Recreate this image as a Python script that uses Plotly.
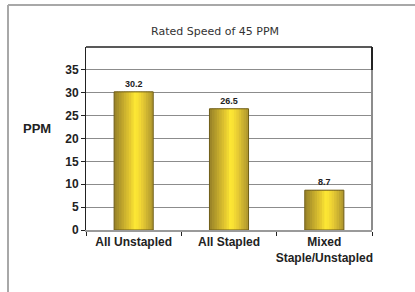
import plotly.graph_objects as go

# ---- data ----
categories = ["All Unstapled", "All Stapled", "Mixed<br>Staple/Unstapled"]
ppm_values = [30.2, 26.5, 8.7]
value_labels = ["30.2", "26.5", "8.7"]
y_ticks = [0, 5, 10, 15, 20, 25, 30, 35]
y_tick_text = ["0", "5", "10", "15", "20", "25", "30", "35"]
title_text = "Rated Speed of 45 PPM"
y_label = "PPM"

# ---- style ----
BAR_W = 0.41
N_SLICES = 16
stops = [(0.0, (150, 128, 40)), (0.40, (228, 200, 48)), (0.55, (255, 234, 52)),
         (0.72, (232, 204, 52)), (1.0, (172, 148, 46))]


def grad(t):
    for (t0, c0), (t1, c1) in zip(stops[:-1], stops[1:]):
        if t0 <= t <= t1:
            f = (t - t0) / (t1 - t0) if t1 > t0 else 0
            return "rgb(%d,%d,%d)" % tuple(round(a + (b - a) * f) for a, b in zip(c0, c1))
    return "rgb(%d,%d,%d)" % stops[-1][1]


fig = go.Figure()
w = BAR_W / N_SLICES
for i in range(N_SLICES):
    t = (i + 0.5) / N_SLICES
    width = w * 1.6 if i < N_SLICES - 1 else w
    fig.add_trace(go.Bar(
        x=categories, y=ppm_values, width=width, offset=-BAR_W / 2 + i * w,
        marker=dict(color=grad(t), line=dict(width=0)),
        hoverinfo="skip", showlegend=False))

fig.add_trace(go.Bar(
    x=categories, y=ppm_values, width=BAR_W, offset=-BAR_W / 2,
    marker=dict(color="rgba(0,0,0,0)", line=dict(color="#6e5c16", width=1)),
    text=value_labels, textposition="outside", cliponaxis=False,
    textfont=dict(family="Liberation Sans", size=9, color="#222222", weight="bold"),
    showlegend=False))

fig.update_layout(
    width=415, height=292,
    margin=dict(l=86, r=43, t=47, b=62, autoexpand=False),
    paper_bgcolor="white", plot_bgcolor="white",
    barmode="overlay",
    font=dict(family="Liberation Sans", color="#222222"),
    xaxis=dict(range=[-0.5, 2.5], showline=True, linecolor="#9a9a9a", linewidth=2,
               ticks="outside", tickson="boundaries", ticklen=4, tickcolor="#222222",
               tickangle=0, automargin=False,
               tickfont=dict(family="Liberation Sans", size=12, color="#222222", weight="bold"),
               showgrid=False),
    yaxis=dict(range=[0, 40], tickvals=y_ticks, ticktext=y_tick_text, automargin=False,
               showline=True, linecolor="#222222", linewidth=1,
               ticks="outside", ticklen=4, tickcolor="#222222",
               tickfont=dict(family="Liberation Sans", size=12, color="#222222", weight="bold"),
               showgrid=True, gridcolor="#8c8c8c", gridwidth=1, zeroline=False),
    annotations=[
        dict(text=title_text, xref="paper", yref="paper", x=0.451, y=1.082,
             xanchor="center", yanchor="middle", showarrow=False,
             font=dict(family="DejaVu Sans", size=11, color="#333333")),
        dict(text="<b>" + y_label + "</b>", xref="paper", yref="paper", x=-0.172, y=0.555,
             xanchor="center", yanchor="middle", showarrow=False,
             font=dict(family="Liberation Sans", size=13, color="#222222")),
    ],
    shapes=[
        dict(type="line", xref="paper", yref="paper", x0=-0.2727, x1=1.16, y0=1.2295, y1=1.2295,
             line=dict(color="#a8a8a8", width=2)),
        dict(type="line", xref="paper", yref="paper", x0=-0.2727, x1=-0.2727, y0=1.2295, y1=-0.36,
             line=dict(color="#a8a8a8", width=2)),
        dict(type="line", xref="paper", yref="paper", x0=0, x1=1, y0=1, y1=1,
             line=dict(color="#222222", width=1.5)),
        dict(type="line", xref="paper", yref="paper", x0=1, x1=1, y0=0, y1=1,
             line=dict(color="#8c8c8c", width=2)),
        dict(type="line", xref="paper", yref="paper", x0=1, x1=1, y0=0.875, y1=1,
             line=dict(color="#222222", width=2)),
    ],
)

fig.write_html("out.html", config={"displayModeBar": False},
               post_script="document.body.style.margin='0px';")
